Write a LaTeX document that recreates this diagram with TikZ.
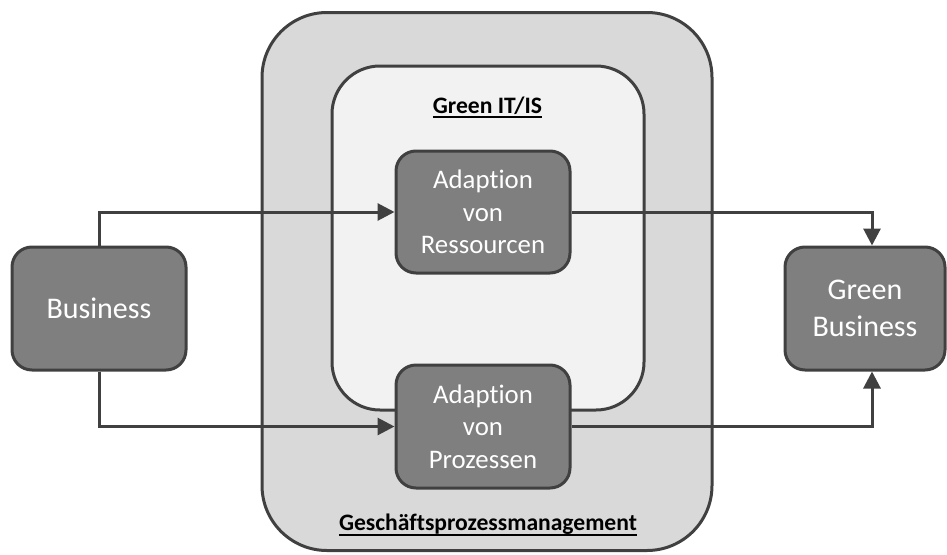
\documentclass[tikz,border=0pt]{standalone}
\usepackage{fontspec}
\setmainfont{Carlito}[Ligatures={NoCommon}]
\usetikzlibrary{arrows.meta}

\definecolor{linegray}{HTML}{404040}
\definecolor{boxgray}{HTML}{7F7F7F}
\definecolor{outergray}{HTML}{D9D9D9}
\definecolor{innergray}{HTML}{F2F2F2}

\tikzset{
  container/.style={draw=linegray, line width=3pt, inner sep=0pt},
  procbox/.style={draw=linegray, fill=boxgray, line width=3pt, rounded corners=20pt,
    inner sep=0pt, align=center, text=white},
  smalltext/.style={font=\fontsize{26.8}{32.5}\selectfont},
  bigtext/.style={font=\fontsize{30}{37}\selectfont},
  titletext/.style={font=\fontsize{23.6}{28}\selectfont\bfseries, inner sep=0pt, anchor=base},
  ul/.style={line width=2pt, black},
  conn/.style={draw=linegray, line width=3pt, -{Triangle[length=17pt,width=17pt]}},
}

\begin{document}
\begin{tikzpicture}[x=1pt, y=-1pt]
  \useasboundingbox (0,0) rectangle (947,554);

  % containers
  \node[container, fill=outergray, rounded corners=65pt,
        minimum width=450pt, minimum height=538pt] (gpm) at (487,281.5) {};
  \node[container, fill=innergray, rounded corners=48pt,
        minimum width=312pt, minimum height=344pt] (git) at (488,238) {};

  % container titles
  \node[titletext] (gittitle) at (487.5,113) {Green IT/IS};
  \draw[ul] ([yshift=-4pt]gittitle.base west) -- ([yshift=-4pt]gittitle.base east);
  \node[titletext] (gpmtitle) at (488,530) {Geschäftsprozessmanagement};
  \draw[ul] ([yshift=-4.5pt]gpmtitle.base west) -- ([yshift=-4.5pt]gpmtitle.base east);

  % process boxes
  \node[procbox, bigtext, minimum width=174pt, minimum height=123pt] (biz) at (99,308.5) {Business};
  \node[procbox, bigtext, minimum width=160pt, minimum height=123pt] (gb) at (865,308.5) {Green\\Business};
  \node[procbox, smalltext, minimum width=174pt, minimum height=122pt] (res) at (483,212) {Adaption\\von\\Ressourcen};
  \node[procbox, smalltext, minimum width=174pt, minimum height=123pt] (pro) at (483,426.5) {Adaption\\von\\Prozessen};

  % connectors
  \draw[conn] (biz.north) |- (res.west);
  \draw[conn] (biz.south) |- (pro.west);
  \draw[conn] (res.east) -| ([xshift=7pt]gb.north);
  \draw[conn] (pro.east) -| ([xshift=7pt]gb.south);
\end{tikzpicture}
\end{document}
